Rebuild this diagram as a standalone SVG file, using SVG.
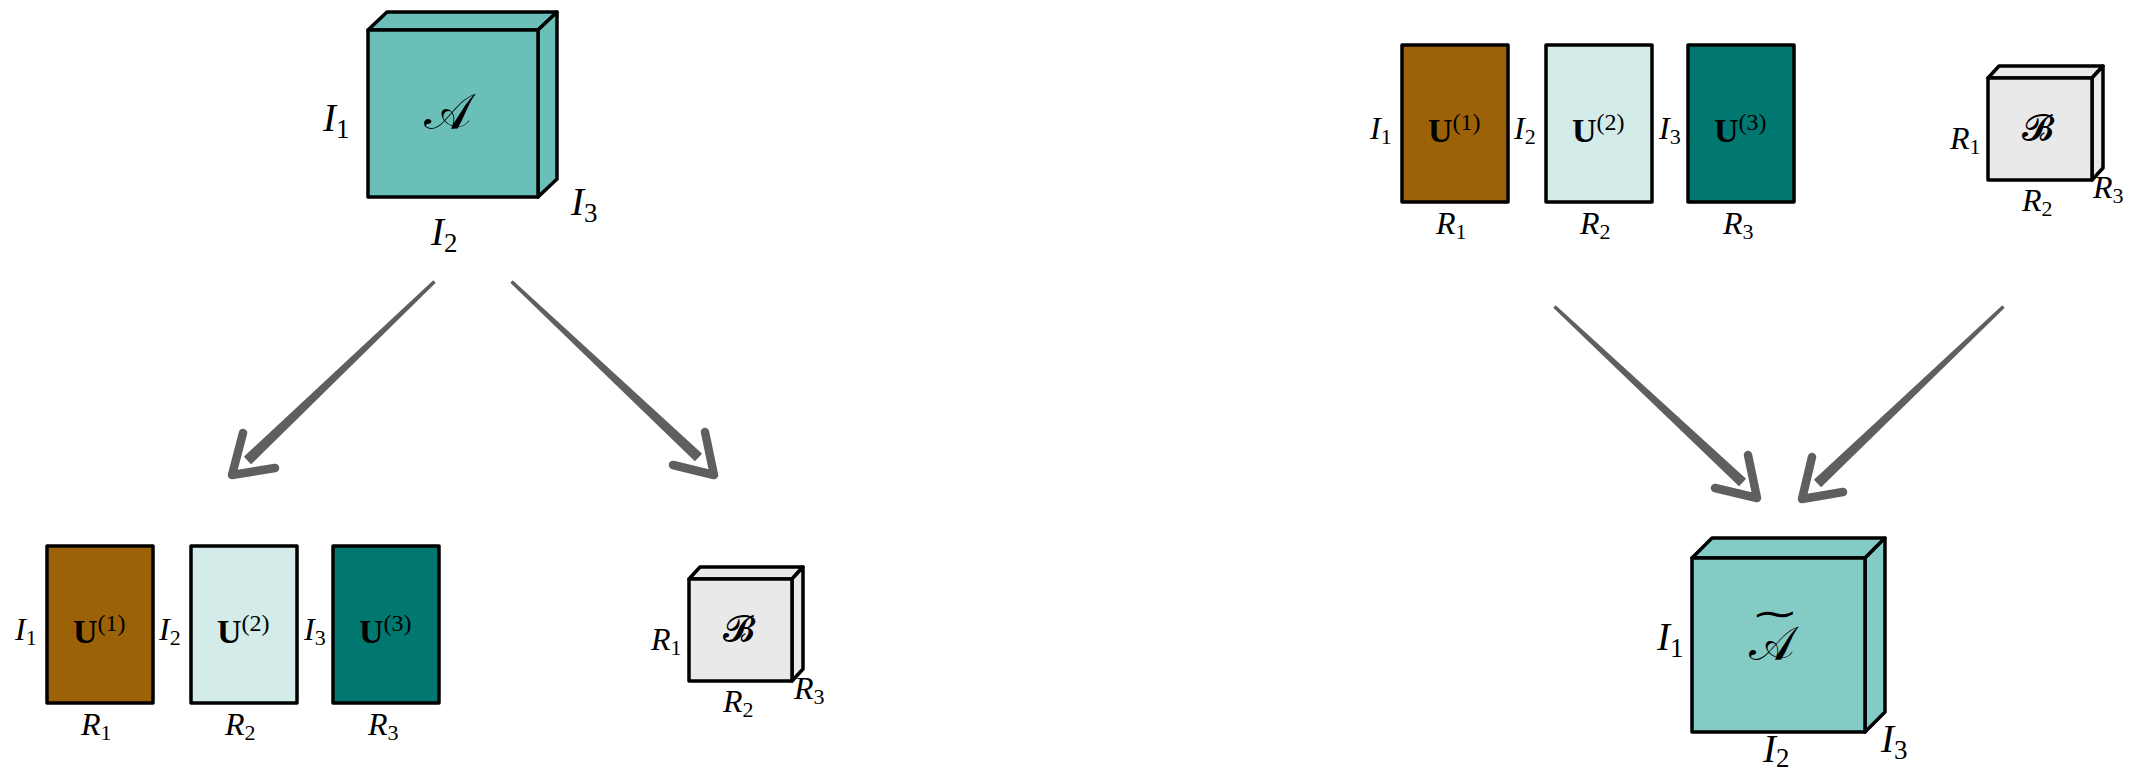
<svg xmlns="http://www.w3.org/2000/svg" width="2138" height="770" viewBox="0 0 2138 770">
<style>
.edge{stroke:#000;stroke-width:3.5;stroke-linejoin:round}
.lbl{font-family:"Liberation Serif",serif;font-style:italic;fill:#000}
.sub{font-style:normal}
.big{font-size:39px}
.sm{font-size:32px}
.u{font-family:"Liberation Serif",serif;font-weight:bold;font-size:34px;fill:#000}
.sup{font-weight:normal;font-size:24px}
.scr{font-family:"DejaVu Serif","DejaVu Sans",serif;fill:#000;text-anchor:middle}
.shaft{fill:#5f5f5f;stroke:#5f5f5f;stroke-width:1.5;stroke-linejoin:round}
.head{fill:none;stroke:#5f5f5f;stroke-width:8.5;stroke-linecap:round;stroke-linejoin:round}
</style>
<rect width="2138" height="770" fill="#fff"/>

<g id="tensorA">
<polygon class="edge" fill="#6abfb8" points="368,30 387,12 557,12 538,30"/>
<polygon class="edge" fill="#6abfb8" points="538,30 557,12 557,179 538,197"/>
<rect class="edge" fill="#6abfb8" x="368" y="30" width="170" height="167"/>
<text class="scr" x="447" y="129" font-size="50">𝒜</text>
<text class="lbl big" x="323" y="131">I<tspan class="sub" font-size="27" dy="7">1</tspan></text>
<text class="lbl big" x="431" y="245">I<tspan class="sub" font-size="27" dy="7">2</tspan></text>
<text class="lbl big" x="571" y="215">I<tspan class="sub" font-size="27" dy="7">3</tspan></text>
</g>

<g id="U1-left">
<rect class="edge" fill="#9c6208" x="47" y="546" width="106" height="157"/>
<text class="u" x="73" y="643">U<tspan class="sup" dy="-12">(1)</tspan></text>
<text class="lbl sm" x="15" y="640">I<tspan class="sub" font-size="22" dy="5">1</tspan></text>
<text class="lbl sm" x="81" y="735">R<tspan class="sub" font-size="22" dy="5">1</tspan></text>
</g>
<g id="U2-left">
<rect class="edge" fill="#d3ece9" x="191" y="546" width="106" height="157"/>
<text class="u" x="217" y="643">U<tspan class="sup" dy="-12">(2)</tspan></text>
<text class="lbl sm" x="159" y="640">I<tspan class="sub" font-size="22" dy="5">2</tspan></text>
<text class="lbl sm" x="225" y="735">R<tspan class="sub" font-size="22" dy="5">2</tspan></text>
</g>
<g id="U3-left">
<rect class="edge" fill="#007870" x="333" y="546" width="106" height="157"/>
<text class="u" x="359" y="643">U<tspan class="sup" dy="-12">(3)</tspan></text>
<text class="lbl sm" x="304" y="640">I<tspan class="sub" font-size="22" dy="5">3</tspan></text>
<text class="lbl sm" x="368" y="735">R<tspan class="sub" font-size="22" dy="5">3</tspan></text>
</g>

<g id="B-left">
<polygon class="edge" fill="#e9e9e9" points="689,579 700,567 803,567 792,579"/>
<polygon class="edge" fill="#e9e9e9" points="792,579 803,567 803,669 792,681"/>
<rect class="edge" fill="#e9e9e9" x="689" y="579" width="103" height="102"/>
<text class="scr" x="739" y="641" font-size="36">𝓑</text>
<text class="lbl sm" x="651" y="650">R<tspan class="sub" font-size="22" dy="5">1</tspan></text>
<text class="lbl sm" x="723" y="712">R<tspan class="sub" font-size="22" dy="5">2</tspan></text>
<text class="lbl sm" x="794" y="699">R<tspan class="sub" font-size="22" dy="5">3</tspan></text>
</g>

<g id="U1-right">
<rect class="edge" fill="#9c6208" x="1402" y="45" width="106" height="157"/>
<text class="u" x="1428" y="142">U<tspan class="sup" dy="-12">(1)</tspan></text>
<text class="lbl sm" x="1370" y="139">I<tspan class="sub" font-size="22" dy="5">1</tspan></text>
<text class="lbl sm" x="1436" y="234">R<tspan class="sub" font-size="22" dy="5">1</tspan></text>
</g>
<g id="U2-right">
<rect class="edge" fill="#d3ece9" x="1546" y="45" width="106" height="157"/>
<text class="u" x="1572" y="142">U<tspan class="sup" dy="-12">(2)</tspan></text>
<text class="lbl sm" x="1514" y="139">I<tspan class="sub" font-size="22" dy="5">2</tspan></text>
<text class="lbl sm" x="1580" y="234">R<tspan class="sub" font-size="22" dy="5">2</tspan></text>
</g>
<g id="U3-right">
<rect class="edge" fill="#007870" x="1688" y="45" width="106" height="157"/>
<text class="u" x="1714" y="142">U<tspan class="sup" dy="-12">(3)</tspan></text>
<text class="lbl sm" x="1659" y="139">I<tspan class="sub" font-size="22" dy="5">3</tspan></text>
<text class="lbl sm" x="1723" y="234">R<tspan class="sub" font-size="22" dy="5">3</tspan></text>
</g>

<g id="B-right">
<polygon class="edge" fill="#e9e9e9" points="1988,78 1999,66 2103,66 2092,78"/>
<polygon class="edge" fill="#e9e9e9" points="2092,78 2103,66 2103,168 2092,180"/>
<rect class="edge" fill="#e9e9e9" x="1988" y="78" width="104" height="102"/>
<text class="scr" x="2038" y="140" font-size="36">𝓑</text>
<text class="lbl sm" x="1950" y="149">R<tspan class="sub" font-size="22" dy="5">1</tspan></text>
<text class="lbl sm" x="2022" y="211">R<tspan class="sub" font-size="22" dy="5">2</tspan></text>
<text class="lbl sm" x="2093" y="198">R<tspan class="sub" font-size="22" dy="5">3</tspan></text>
</g>

<g id="tensorA-tilde">
<polygon class="edge" fill="#85cbc5" points="1692,558 1712,538 1885,538 1865,558"/>
<polygon class="edge" fill="#85cbc5" points="1865,558 1885,538 1885,712 1865,732"/>
<rect class="edge" fill="#85cbc5" x="1692" y="558" width="173" height="174"/>
<text class="scr" x="1771" y="660" font-size="48">𝒜</text>
<text class="scr" x="1775" y="626" font-size="36" transform="translate(1775,0) scale(1.6,1) translate(-1775,0)">∼</text>
<text class="lbl big" x="1657" y="650">I<tspan class="sub" font-size="27" dy="7">1</tspan></text>
<text class="lbl big" x="1763" y="762">I<tspan class="sub" font-size="27" dy="5">2</tspan></text>
<text class="lbl big" x="1881" y="752">I<tspan class="sub" font-size="27" dy="7">3</tspan></text>
</g>

<g id="connectors">
<polygon class="shaft" points="434.7,282.7 251.1,463.3 244.9,456.7 433.3,281.3"/>
<polyline class="head" points="243,433 232,475 275,468"/>
<polygon class="shaft" points="511.3,282.7 694.9,460.3 701.1,453.7 512.7,281.3"/>
<polyline class="head" points="705,432 714,475 673,465"/>
<polygon class="shaft" points="1554.3,307.7 1739.0,485.2 1745.0,478.8 1555.7,306.3"/>
<polyline class="head" points="1748,455 1757,498 1715,488"/>
<polygon class="shaft" points="2003.7,307.7 1821.1,486.2 1814.9,479.8 2002.3,306.3"/>
<polyline class="head" points="1812,457 1802,499 1843,492"/>
</g>
</svg>
